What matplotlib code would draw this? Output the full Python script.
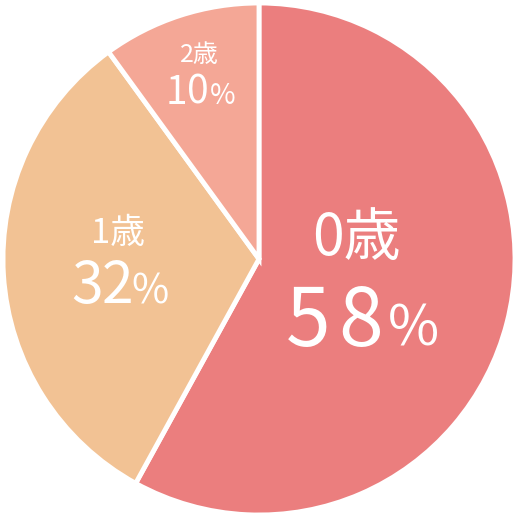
import matplotlib.pyplot as plt

# 年齢別の割合
labels = ['0歳', '1歳', '2歳']
numbers = ['58', '32', '10']
values = [58, 32, 10]
colors = ['#EB7E7E', '#F2C294', '#F4A796']

plt.rcParams['font.family'] = ['Noto Sans CJK JP', 'DejaVu Sans']

W, H = 517, 518
fig = plt.figure(figsize=(W / 100, H / 100), dpi=100)
ax = fig.add_axes([0, 0, 1, 1])

ax.pie(values, colors=colors, startangle=90, counterclock=False,
       center=(259, H - 259), radius=256,
       wedgeprops={'edgecolor': 'white', 'linewidth': 3.5})

ax.set_xlim(0, W)
ax.set_ylim(0, H)
ax.set_aspect('equal')
ax.axis('off')

# ラベル位置 (画像座標: 中心x, 基線y, 文字サイズ)
lab_pos = [(356, 255, 41), (118, 243, 25), (199, 62, 18)]
# 数字1桁目x, 2桁目x, %のx, 基線y, 数字サイズ, %サイズ
num_pos = [(308, 361, 413, 346, 58, 40),
           (87, 118, 150, 303, 41, 29),
           (176, 198, 223, 104, 28, 20)]

for i in range(len(labels)):
    x, y, fs = lab_pos[i]
    ax.text(x, H - y, labels[i], fontsize=fs, color='white',
            ha='center', va='baseline')
    x1, x2, xp, y, fs, pfs = num_pos[i]
    ax.text(x1, H - y, numbers[i][0], fontsize=fs, color='white',
            ha='center', va='baseline')
    ax.text(x2, H - y, numbers[i][1], fontsize=fs, color='white',
            ha='center', va='baseline')
    ax.text(xp, H - y, '%', fontsize=pfs, color='white',
            ha='center', va='baseline')

fig.savefig('out.png', dpi=100)
